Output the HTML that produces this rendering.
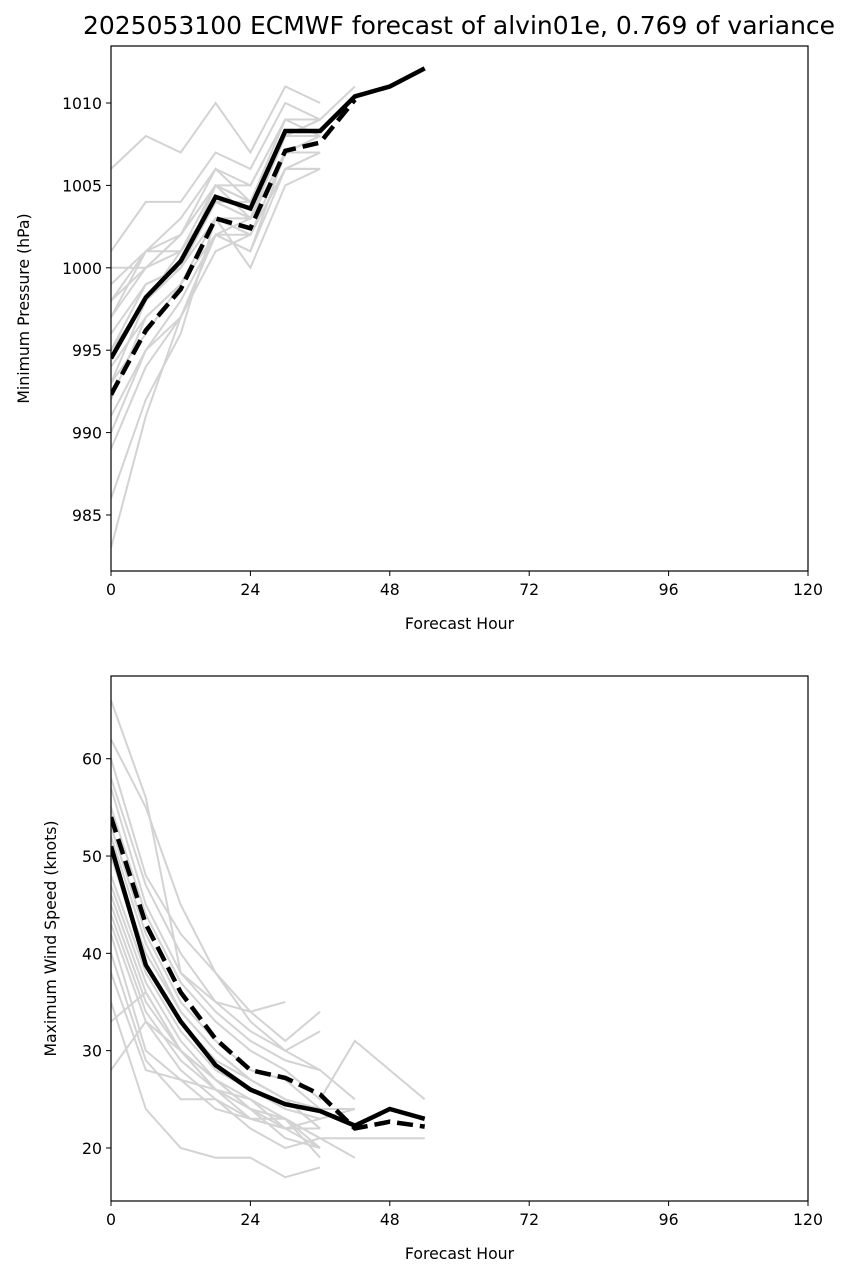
<!DOCTYPE html>
<html><head><meta charset="utf-8"><style>
body{margin:0;background:#fff;}
svg{display:block;font-family:"DejaVu Sans","Liberation Sans",sans-serif;}
</style></head><body>
<svg id="chart" width="851" height="1279" viewBox="0 0 851 1279">
<rect width="851" height="1279" fill="#fff"/>
<text x="459" y="34" font-size="25" text-anchor="middle">2025053100 ECMWF forecast of alvin01e, 0.769 of variance</text>
<g id="top"></g>
<g id="bot"></g>
</svg>
<script>
const hours=[0,6,12,18,24,30,36,42,48,54];
const xTicks=[0,24,48,72,96,120];
const presTicks=[985,990,995,1000,1005,1010];
const windTicks=[20,30,40,50,60];
const presMean=[994.5,998.2,1000.4,1004.3,1003.6,1008.3,1008.3,1010.4,1011,1012.1];
const presDet=[992.3,996.2,998.7,1003,1002.4,1007.1,1007.6,1010.2];
const presMembers=[
[1006,1008,1007,1010,1007,1011,1010],
[1001,1004,1004,1007,1006,1010,1009,1011],
[997,1001,1002,1006,1005,1009,1009],
[1000,1000,1001,1005,1003,1008,1008],
[999,1001,1003,1006,1004,1009,1008],
[998,1000,1002,1005,1004,1008,1008],
[996,999,1000,1004,1003,1007,1007],
[995,998,1001,1004,1004,1008,1009],
[994,997,999,1003,1002,1007,1007],
[993,996,999,1002,1001,1006,1006],
[992,997,999,1003,1000,1005,1006],
[991,995,998,1002,1002,1006,1007],
[990,995,997,1002,1001,1007,1007],
[989,994,997,1001,1002,1006,1006],
[986,992,996,1003,1003,1007,1008],
[983,991,997,1002,1003,1008,1009],
[997,1000,1002,1005,1005,1009,1009],
[995,999,1000,1005,1004,1008,1009],
[998,1001,1001,1004,1003,1007,1008],
[993,998,1000,1003,1002,1006,1007]
];
const windMean=[51,38.8,33,28.5,26,24.5,23.8,22.3,24,23];
const windDet=[54,43,36,31.2,28,27.2,25.5,22,22.7,22.2];
const windMembers=[
[66,56,38,35,34,35],
[62,55,45,38,33,30,28],
[60,48,42,38,34,31,34],
[58,47,40,35,32,30,32],
[57,45,38,34,31,29,28,25],
[55,44,37,33,30,28,25,31,28,25],
[53,42,35,31,28,27,24],
[50,40,34,30,27,25,22],
[48,38,32,28,26,24,23,24],
[47,37,31,27,25,23,21,21,21,21],
[46,36,30,27,24,23,20],
[45,35,30,26,25,22,22],
[44,34,29,26,24,23,19],
[43,33,28,25,23,22,22],
[42,30,27,26,23,23,21,19],
[40,29,25,25,22,20,21],
[38,28,27,24,23,22,20],
[35,24,20,19,19,17,18],
[33,36,30,27,24,22,23],
[28,33,30,26,24,21,20],
[50,39,33,29,27,25,24,24],
[52,41,34,30,27,25,22]
];
const svg=document.getElementById('chart');
const NS='http://www.w3.org/2000/svg';
function mk(tag,attrs,parent){const e=document.createElementNS(NS,tag);for(const k in attrs)e.setAttribute(k,attrs[k]);parent.appendChild(e);return e;}
const X0=111,X1=808;
const xs=h=>X0+(h/120)*(X1-X0);
function panel(g,top,bot,ymin,ymax,yTicks,ylabel,members,mean,det,pfx){
  const ys=v=>bot-(v-ymin)/(ymax-ymin)*(bot-top);
  const clip=mk('clipPath',{id:'c'+pfx},svg);mk('rect',{x:X0,y:top,width:X1-X0,height:bot-top},clip);
  const lines=mk('g',{'clip-path':'url(#c'+pfx+')'},g);
  const path=arr=>arr.map((v,i)=>(i?'L':'M')+xs(hours[i]).toFixed(1)+','+ys(v).toFixed(1)).join('');
  members.forEach((m,i)=>{const p=mk('path',{d:path(m),fill:'none',stroke:'#d3d3d3','stroke-width':2},lines);
    
    });
  const dp=mk('path',{d:path(det),fill:'none',stroke:'#000','stroke-width':4.5,'stroke-dasharray':'16,7'},lines);
  
  
  const mp=mk('path',{d:path(mean),fill:'none',stroke:'#000','stroke-width':4.5},lines);
  
  
  const fr=mk('rect',{x:X0,y:top,width:X1-X0,height:bot-top,fill:'none',stroke:'#000','stroke-width':1.2},g);
  
  
  xTicks.forEach(t=>{mk('line',{x1:xs(t),x2:xs(t),y1:bot,y2:bot+5,stroke:'#000'},g);
    const tx=mk('text',{x:xs(t),y:bot+24,'font-size':15.7,'text-anchor':'middle'},g);tx.textContent=t;
    
    });
  yTicks.forEach(t=>{mk('line',{x1:X0-5,x2:X0,y1:ys(t),y2:ys(t),stroke:'#000'},g);
    const tx=mk('text',{x:X0-9,y:ys(t)+6,'font-size':15.7,'text-anchor':'end'},g);tx.textContent=t;
    
    });
  const xl=mk('text',{x:(X0+X1)/2,y:bot+58,'font-size':15.7,'text-anchor':'middle'},g);xl.textContent='Forecast Hour';
  
  
  const cy=(top+bot)/2;
  const yl=mk('text',{x:0,y:0,'font-size':15.7,'text-anchor':'middle',transform:`translate(${pfx==='pressure'?29:56},${cy}) rotate(-90)`},g);yl.textContent=ylabel;
  
  
}
panel(document.getElementById('top'),46,571,981.6,1013.46,presTicks,'Minimum Pressure (hPa)',presMembers,presMean,presDet,'pressure');
panel(document.getElementById('bot'),676,1201,14.55,68.5,windTicks,'Maximum Wind Speed (knots)',windMembers,windMean,windDet,'wind');
</script>
</body></html>
